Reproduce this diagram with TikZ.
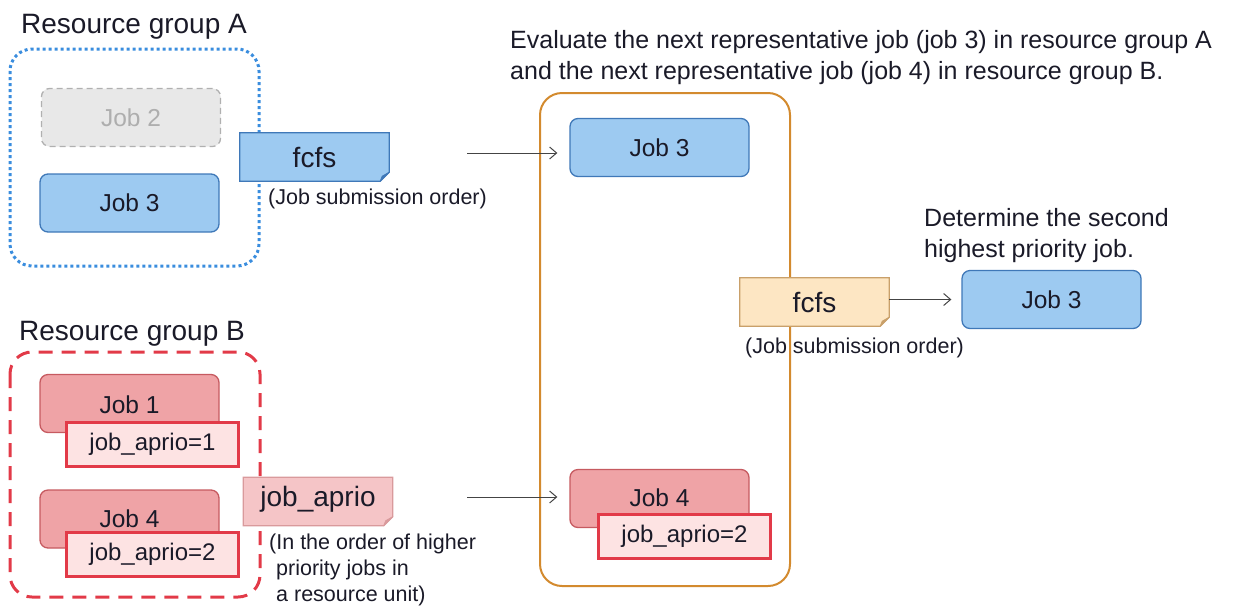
\documentclass[tikz,border=0pt]{standalone}
\usepackage{fontspec}
\setmainfont{Liberation Sans}
\usetikzlibrary{arrows.meta,calc}

\definecolor{txt}{HTML}{1A1A28}
\definecolor{jobfill}{HTML}{9DCAF1}
\definecolor{jobedge}{HTML}{3F78B8}
\definecolor{redfill}{HTML}{EFA3A6}
\definecolor{rededge}{HTML}{C65A60}
\definecolor{priofill}{HTML}{FDE3E3}
\definecolor{prioedge}{HTML}{E23A48}
\definecolor{pinkfill}{HTML}{F5C5C7}
\definecolor{pinkedge}{HTML}{D99A9C}
\definecolor{sandfill}{HTML}{FDE6C3}
\definecolor{sandedge}{HTML}{C9A06A}
\definecolor{orangeedge}{HTML}{D38A2E}
\definecolor{dotblue}{HTML}{3A8DDE}
\definecolor{dashred}{HTML}{E23A48}
\definecolor{greyfill}{HTML}{E8E8E8}
\definecolor{greyedge}{HTML}{B0B0B0}
\definecolor{greytxt}{HTML}{AEAEAE}
\definecolor{arrowgrey}{HTML}{444444}

% folded-corner note drawn around a named node: name, fill, edge
\newcommand\foldnote[3]{%
  \filldraw[fill=#2,draw=#3,line width=1.2pt]
    (#1.north west) -- (#1.north east) -- ([yshift=9pt]#1.south east)
    -- ([xshift=-9pt]#1.south east) -- (#1.south west) -- cycle;
  \filldraw[fill=#3,draw=#3,line width=0.8pt,line join=round]
    ([yshift=9pt]#1.south east) -- ([xshift=-9pt]#1.south east)
    -- ([xshift=-7pt,yshift=5pt]#1.south east) -- cycle;
}

\begin{document}
\begin{tikzpicture}[x=1pt,y=-1pt,
  every node/.style={text=txt},
  jobbox/.style={draw=jobedge,fill=jobfill,line width=1.3pt,rounded corners=8pt,
    minimum width=179pt,minimum height=58pt,inner sep=0pt,
    font=\fontsize{24.5}{28}\selectfont},
  redjob/.style={jobbox,draw=rededge,fill=redfill,text depth=0pt},
  priobox/.style={draw=prioedge,fill=priofill,line width=3pt,
    minimum width=172pt,minimum height=44pt,inner sep=0pt,
    font=\fontsize{24}{28}\selectfont},
  noteshape/.style={minimum width=149pt,minimum height=48pt,inner sep=0pt,
    font=\fontsize{28}{32}\selectfont},
  caption/.style={anchor=base west,inner sep=0pt,align=left,
    font=\fontsize{21.5}{26}\selectfont},
  heading/.style={anchor=base west,inner sep=0pt,font=\fontsize{28}{32}\selectfont},
  remark/.style={anchor=base west,inner sep=0pt,align=left,
    font=\fontsize{25}{31}\selectfont},
  flow/.style={draw=arrowgrey,line width=1pt,
    -{Straight Barb[length=7pt,width=12pt,line width=1pt]}},
]
\useasboundingbox (0,0) rectangle (1233,606);

% ---------- resource group A ----------
\node[heading] (titleA) at (21,33) {Resource group A};
\draw[dotblue,line width=3pt,dash pattern=on 3pt off 3pt,rounded corners=22pt]
  (10,49) rectangle (259,266);
\node[jobbox,draw=greyedge,fill=greyfill,text=greytxt,dash pattern=on 6pt off 4pt]
  (jobAtwo) at (131,117.5) {Job 2};
\node[jobbox] (jobAthree) at (129.5,203) {Job 3};

\node[noteshape] (fcfsA) at (314.5,157) {};
\foldnote{fcfsA}{jobfill}{jobedge}
\node[font=\fontsize{28}{32}\selectfont] (fcfsAtext) at (fcfsA) {fcfs};
\node[caption] (orderA) at (268,204) {(Job submission order)};

% ---------- resource group B ----------
\node[heading] (titleB) at (19,340) {Resource group B};
\draw[dashred,line width=3pt,dash pattern=on 14pt off 9pt,rounded corners=22pt]
  (10,352) rectangle (260,597);
\node[redjob] (jobBone) at (129.5,403.5) {};
\node[font=\fontsize{24.5}{28}\selectfont] (jobBonetext) at (129.5,405) {Job 1};
\node[priobox] (prioBone) at (152.5,444) {job\_aprio=1};
\node[redjob] (jobBfour) at (129.5,519) {};
\node[font=\fontsize{24.5}{28}\selectfont] (jobBfourtext) at (129.5,519) {Job 4};
\node[priobox] (prioBfour) at (152.5,554) {job\_aprio=2};

\node[noteshape] (aprioB) at (318,501.5) {};
\foldnote{aprioB}{pinkfill}{pinkedge}
\node[font=\fontsize{28}{32}\selectfont] (aprioBtext) at (318,499) {job\_aprio};
\node[caption] (orderB) at (269,601)
  {(In the order of higher\\\hspace*{7pt}priority jobs in\\\hspace*{7pt}a resource unit)};

% ---------- evaluation of the representatives ----------
\node[remark] (evaltext) at (510,79)
  {Evaluate the next representative job (job 3) in resource group A\\
   and the next representative job (job 4) in resource group B.};
\draw[orangeedge,line width=2pt,rounded corners=22pt] (540,93) rectangle (790,586);
\node[jobbox] (jobCthree) at (659.5,147.5) {Job 3};
\node[redjob] (jobCfour) at (659.5,498.5) {};
\node[font=\fontsize{24.5}{28}\selectfont] (jobCfourtext) at (659.5,498) {Job 4};
\node[priobox] (prioCfour) at (684.5,536) {job\_aprio=2};

\coordinate (fromA) at (467,153);
\coordinate (fromB) at (467,497);
\draw[flow] (fromA) -- ($(jobCthree.west |- fromA)+(-12,0)$);
\draw[flow] (fromB) -- ($(jobCfour.west |- fromB)+(-12,0)$);

% ---------- final decision ----------
\node[noteshape] (fcfsC) at (814.5,302) {};
\foldnote{fcfsC}{sandfill}{sandedge}
\node[font=\fontsize{28}{32}\selectfont] (fcfsCtext) at (fcfsC) {fcfs};
\node[caption] (orderC) at (745,353) {(Job submission order)};

\node[remark] (decidetext) at (924,257)
  {Determine the second\\highest priority job.};
\node[jobbox] (jobDthree) at (1051.5,299.5) {Job 3};
\draw[flow] (fcfsC.east |- jobDthree) -- ($(jobDthree.west)+(-10,0)$);
\end{tikzpicture}
\end{document}
